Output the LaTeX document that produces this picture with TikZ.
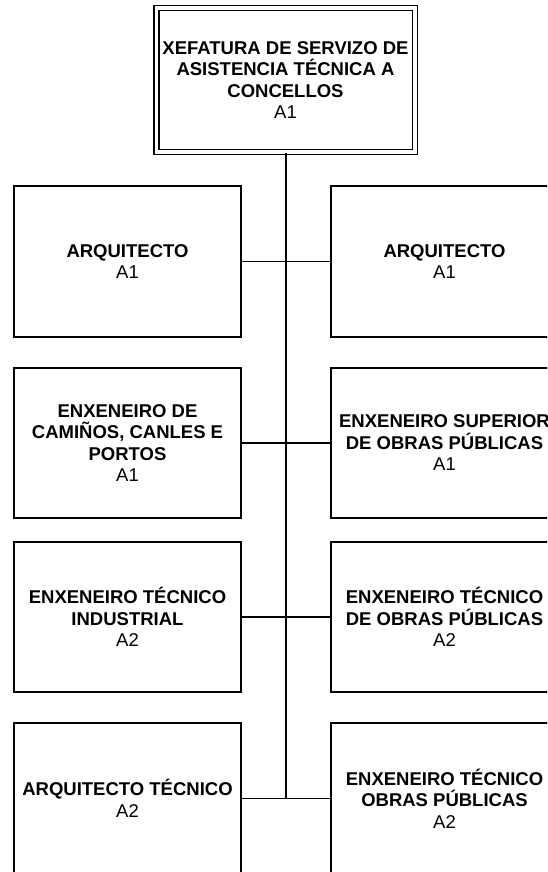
\documentclass[tikz,border=0pt]{standalone}
\usepackage{fontspec}
\setmainfont{Liberation Sans}
\begin{document}
\begin{tikzpicture}[x=1pt,y=-1pt,
  box/.style={draw=black,line width=1.5pt,minimum width=227pt,minimum height=151pt,
    inner sep=0pt,align=center,font=\fontsize{18.5}{21.5}\selectfont},
  topbox/.style={draw=black,line width=1.5pt,double,double distance=3.5pt,
    minimum width=258.5pt,minimum height=143.5pt,inner sep=0pt,align=center,
    font=\fontsize{18.5}{21.5}\selectfont},
  link/.style={draw=black,line width=1.6pt},
  spine/.style={draw=black,line width=2.6pt}]
\useasboundingbox (0,0) rectangle (547,872);
\clip (0,0) rectangle (547,872);
\node[topbox] (top) at (285.5,80) {\textbf{XEFATURA DE SERVIZO DE}\\\textbf{ASISTENCIA TÉCNICA A}\\\textbf{CONCELLOS}\\A1};
\node[box] (L1) at (127.5,261.5) {\textbf{ARQUITECTO}\\A1};
\node[box] (R1) at (444.5,261.5) {\textbf{ARQUITECTO}\\A1};
\node[box,minimum height=150pt] (L2) at (127.5,443) {\textbf{ENXENEIRO DE}\\\textbf{CAMIÑOS, CANLES E}\\\textbf{PORTOS}\\A1};
\node[box,minimum height=150pt] (R2) at (444.5,443) {\textbf{ENXENEIRO SUPERIOR}\\\textbf{DE OBRAS PÚBLICAS}\\A1};
\node[box,minimum height=150pt] (L3) at (127.5,617) {\textbf{ENXENEIRO TÉCNICO}\\\textbf{INDUSTRIAL}\\A2};
\node[box,minimum height=150pt] (R3) at (444.5,617) {\textbf{ENXENEIRO TÉCNICO}\\\textbf{DE OBRAS PÚBLICAS}\\A2};
\node[box] (L4) at (127.5,798.5) {\textbf{ARQUITECTO TÉCNICO}\\A2};
\node[box] (R4) at (444.5,798.5) {\textbf{ENXENEIRO TÉCNICO}\\\textbf{OBRAS PÚBLICAS}\\A2};
\coordinate (spineend) at (286,798.5);
\draw[spine] (top.south -| spineend) -- (spineend);
\draw[link] (L1.east) -- (R1.west);
\draw[link] (L2.east) -- (R2.west);
\draw[link] (L3.east) -- (R3.west);
\draw[link] (L4.east) -- (R4.west);
\end{tikzpicture}
\end{document}
